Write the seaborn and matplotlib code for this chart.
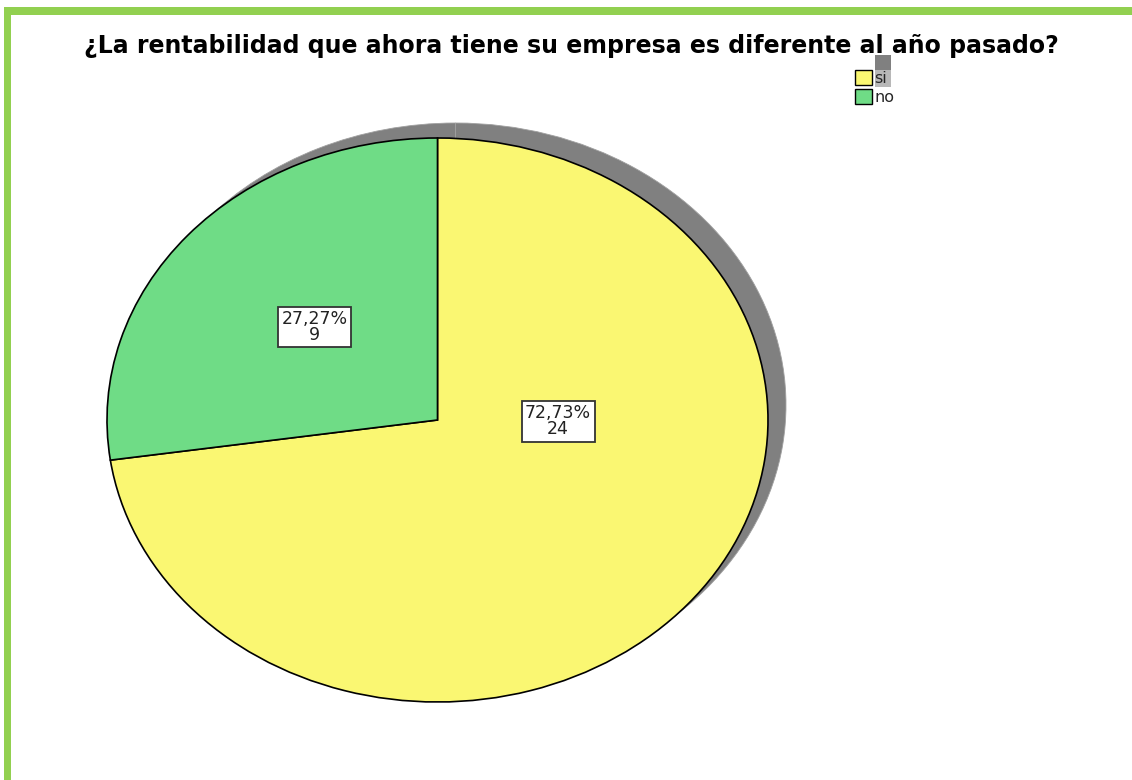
import numpy as np
import pandas as pd
import matplotlib
matplotlib.use("Agg")
import matplotlib.pyplot as plt
import seaborn as sns
from matplotlib.patches import Rectangle, Patch

# data
categories = ["si", "no"]
counts = [24, 9]
colors = ["#faf772", "#6fdc86"]
title = "¿La rentabilidad que ahora tiene su empresa es diferente al año pasado?"

df = pd.DataFrame({"respuesta": categories, "n": counts})
df["pct"] = df["n"] / df["n"].sum() * 100

sns.set_theme(style="white")
plt.rcParams["font.family"] = ["DejaVu Sans"]

W, H = 1132, 780
fig = plt.figure(figsize=(W / 100, H / 100), dpi=100)
fig.patch.set_facecolor("white")

# green frame (left + top)
fig.add_artist(Rectangle((4 / W, 0), 7 / W, (H - 7) / H, transform=fig.transFigure,
                         facecolor="#92d050", edgecolor="none"))
fig.add_artist(Rectangle((4 / W, (H - 15) / H), (W - 4) / W, 8 / H, transform=fig.transFigure,
                         facecolor="#92d050", edgecolor="none"))

# pie axes: stretched ellipse
x0, x1, y0, y1 = 107, 768, 138, 702
ax = fig.add_axes([x0 / W, (H - y1) / H, (x1 - x0) / W, (y1 - y0) / H])

# shadow
sdx, sdy = 18 / ((x1 - x0) / 2), 15 / ((y1 - y0) / 2)
sw, _ = ax.pie(df["n"], startangle=90, counterclock=False, center=(sdx, sdy),
               colors=["#808080", "#808080"], wedgeprops=dict(linewidth=0.6, edgecolor="#a0a0a0"),
               frame=True)
for w in sw:
    w.set_zorder(1)
    w.set_clip_on(False)

wedges, _ = ax.pie(df["n"], startangle=90, counterclock=False, colors=colors,
                   wedgeprops=dict(linewidth=1.2, edgecolor="black"), frame=True)
for w in wedges:
    w.set_zorder(2)
    w.set_clip_on(False)
ax.set_aspect("auto")
ax.set_xlim(-1, 1)
ax.set_ylim(-1, 1)
ax.axis("off")

# value labels
label_pos = [(0.365, -0.004), (-0.371, 0.330)]
for (lx, ly), p, n in zip(label_pos, df["pct"], df["n"]):
    txt = f"{p:.2f}%".replace(".", ",") + f"\n{n}"
    ax.text(lx, ly, txt, ha="center", va="center", fontsize=12.5, linespacing=0.85,
            color="#222222", zorder=5,
            bbox=dict(boxstyle="square,pad=0.2", facecolor="white", edgecolor="#333333", linewidth=1.3))

fig.text(571 / W, (H - 46) / H, title, ha="center", va="center", fontsize=17,
         fontweight="bold", color="black")

# legend
fig.add_artist(Rectangle((875 / W, (H - 70) / H), 16 / W, 15 / H, transform=fig.transFigure,
                         facecolor="#808080", edgecolor="none"))
fig.add_artist(Rectangle((875 / W, (H - 87) / H), 16 / W, 17 / H, transform=fig.transFigure,
                         facecolor="#b8b8b8", edgecolor="none"))
handles = [Patch(facecolor=c, edgecolor="black", linewidth=1) for c in colors]
fig.legend(handles, categories, loc="upper left", bbox_to_anchor=(844 / W, (H - 59) / H),
           frameon=False, fontsize=11.5, handlelength=1.05, handleheight=1.05,
           handletextpad=0.15, labelspacing=0.2, borderpad=0.2)

fig.savefig("out.png", dpi=100)
